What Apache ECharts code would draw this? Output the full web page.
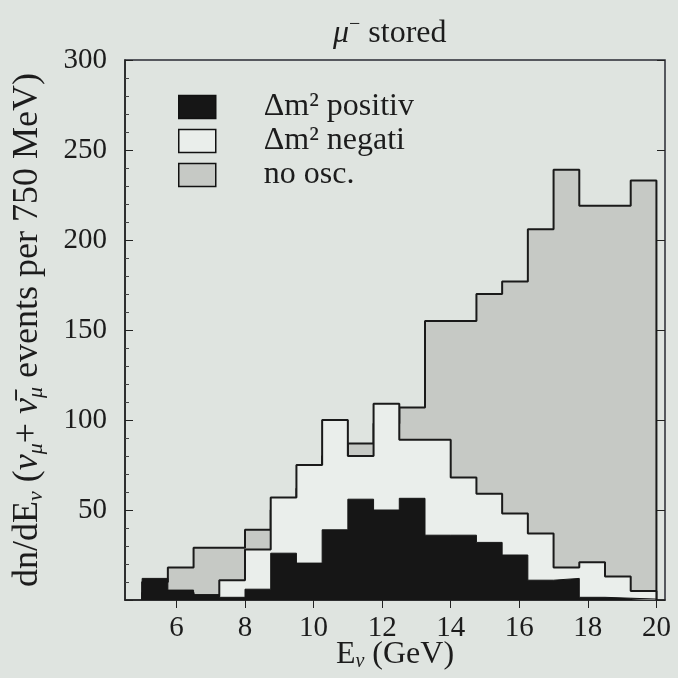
<!DOCTYPE html>
<html>
<head>
<meta charset="utf-8">
<script src="https://cdn.jsdelivr.net/npm/echarts@6/dist/echarts.min.js"></script>
<style>
  html, body { margin: 0; padding: 0; background: #dfe4e0; }
  #chart { width: 678px; height: 678px; }
</style>
</head>
<body>
<div id="chart"></div>
<script>
// Bin edges in GeV (750 MeV bins)
const binEdges = [5, 5.75, 6.5, 7.25, 8, 8.75, 9.5, 10.25, 11, 11.75, 12.5, 13.25, 14, 14.75, 15.5, 16.25, 17, 17.75, 18.5, 19.25, 20];
// events per bin
const noOsc    = [10, 18, 29, 29, 39, 50, 62, 80, 87, 98, 107, 155, 155, 170, 177, 206, 239, 219, 219, 233];
const negative = [4, 4, 2, 11, 28, 57, 75, 100, 80, 109, 89, 89, 68, 59, 48, 37, 18, 21, 13, 5];
const positive = [12, 5.5, 3, 1.5, 6, 26, 20.5, 39, 56, 50, 56.5, 36, 36, 32, 25, 11, 12, 1.5, 1, 0.5];
const xTicks = [6, 8, 10, 12, 14, 16, 18, 20];
const yTicks = [50, 100, 150, 200, 250, 300];
const seriesNames = ['Δm² positiv', 'Δm² negati', 'no osc.'];

function stepPoints(values) {
  const pts = [[binEdges[0], 0]];
  for (let i = 0; i < values.length; i++) pts.push([binEdges[i], values[i]]);
  const last = binEdges[binEdges.length - 1];
  pts.push([last, values[values.length - 1]]);
  pts.push([last, 0]);
  return pts;
}

const serif = 'Liberation Serif';
const ink = '#1c1c1c';
const grayFill = '#c6c9c5';
const whiteFill = '#eaeeeb';
const blackFill = '#161616';

const chart = echarts.init(document.getElementById('chart'));
chart.setOption({
  backgroundColor: '#dfe4e0',
  animation: false,
  title: {
    text: '{mu|μ}{sup|−}{t| stored}',
    left: 328, top: 10,
    textStyle: {
      fontFamily: serif, color: ink, fontWeight: 'normal',
      rich: {
        mu: { fontFamily: serif, fontSize: 32, fontStyle: 'italic', fontWeight: 'normal', color: ink, lineHeight: 38, verticalAlign: 'middle' },
        sup: { fontFamily: serif, fontSize: 20, fontWeight: 'normal', color: ink, lineHeight: 20, verticalAlign: 'top' },
        t: { fontFamily: serif, fontSize: 32, fontWeight: 'normal', color: ink, lineHeight: 38, verticalAlign: 'middle' }
      }
    }
  },
  legend: {
    orient: 'vertical', left: 173, top: 86,
    itemWidth: 37, itemHeight: 23, itemGap: 2,
    selectedMode: false,
    formatter: name => '{p|}{t|' + name + '}',
    textStyle: {
      fontFamily: serif, fontSize: 32, color: ink, lineHeight: 30,
      rich: { p: { width: 43 }, t: { fontFamily: serif, fontSize: 32, color: ink, lineHeight: 30 } }
    },
    data: [
      { name: seriesNames[0], icon: 'rect', itemStyle: { color: blackFill, borderColor: '#111', borderWidth: 1.5 } },
      { name: seriesNames[1], icon: 'rect', itemStyle: { color: whiteFill, borderColor: '#111', borderWidth: 1.5 } },
      { name: seriesNames[2], icon: 'rect', itemStyle: { color: grayFill, borderColor: '#111', borderWidth: 1.5 } }
    ]
  },
  grid: {
    left: 125, right: 13, top: 60, bottom: 78,
    outerBoundsMode: 'none', containLabel: false,
    show: true, borderColor: '#2a2a33', borderWidth: 1.5, backgroundColor: 'transparent'
  },
  xAxis: [{
    type: 'value', min: 4.5, max: 20.25,
    splitLine: { show: false },
    axisLine: { lineStyle: { color: '#222', width: 1.5 } },
    axisTick: { inside: true, length: 8, customValues: xTicks, lineStyle: { color: '#222' } },
    axisLabel: { customValues: xTicks, fontFamily: serif, fontSize: 29, color: ink, margin: 14 },
    name: '{t|E}{sb|ν}{t| (GeV)}',
    nameLocation: 'middle', nameGap: 38, nameMoveOverlap: false,
    nameTextStyle: {
      fontFamily: serif, color: ink,
      rich: {
        t: { fontFamily: serif, fontSize: 32, color: ink, lineHeight: 34, verticalAlign: 'middle' },
        sb: { fontFamily: serif, fontSize: 20, fontStyle: 'italic', color: ink, lineHeight: 20, verticalAlign: 'bottom' }
      }
    }
  }, {
    type: 'value', min: 4.5, max: 20.25, position: 'top',
    splitLine: { show: false },
    axisLine: { show: false },
    axisTick: { inside: true, length: 8, customValues: xTicks, lineStyle: { color: '#222' } },
    axisLabel: { show: false }
  }],
  yAxis: [{
    type: 'value', min: 0, max: 300, interval: 50,
    splitLine: { show: false },
    axisLine: { show: true, lineStyle: { color: '#222', width: 1.5 } },
    axisTick: { show: true, inside: true, length: 8, lineStyle: { color: '#222' } },
    minorTick: { show: true, splitNumber: 5, length: 4, lineStyle: { color: '#444' } },
    axisLabel: {
      fontFamily: serif, fontSize: 29, color: ink, margin: 18,
      formatter: v => (yTicks.indexOf(v) >= 0 ? String(v) : '')
    },
    name: '{t|dn/dE}{sb|ν}{t| (}{it|ν}{sb|μ}{t|+ }{it|ν̄}{sb|μ}{t| events per 750 MeV)}',
    nameLocation: 'middle', nameGap: 78, nameMoveOverlap: false,
    nameTextStyle: {
      fontFamily: serif, color: ink,
      rich: {
        t: { fontFamily: serif, fontSize: 36, color: ink, lineHeight: 38, verticalAlign: 'middle' },
        it: { fontFamily: serif, fontSize: 36, fontStyle: 'italic', color: ink, lineHeight: 38, verticalAlign: 'middle' },
        sb: { fontFamily: serif, fontSize: 22, fontStyle: 'italic', color: ink, lineHeight: 22, verticalAlign: 'bottom' }
      }
    }
  }, {
    type: 'value', min: 0, max: 300, interval: 50, position: 'right',
    splitLine: { show: false },
    axisLine: { show: false },
    axisTick: { show: true, inside: true, length: 8, lineStyle: { color: '#222' } },
    axisLabel: { show: false }
  }],
  series: [
    {
      name: seriesNames[2], type: 'line', step: 'end', showSymbol: false, z: 2,
      data: stepPoints(noOsc),
      lineStyle: { color: '#1a1a1a', width: 2 },
      itemStyle: { color: grayFill },
      areaStyle: { color: grayFill, opacity: 1 }
    },
    {
      name: seriesNames[1], type: 'line', step: 'end', showSymbol: false, z: 3,
      data: stepPoints(negative),
      lineStyle: { color: '#1a1a1a', width: 2 },
      itemStyle: { color: whiteFill },
      areaStyle: { color: whiteFill, opacity: 1 }
    },
    {
      name: seriesNames[0], type: 'line', step: 'end', showSymbol: false, z: 4,
      data: stepPoints(positive),
      lineStyle: { color: blackFill, width: 1 },
      itemStyle: { color: blackFill },
      areaStyle: { color: blackFill, opacity: 1 }
    }
  ]
});
</script>
</body>
</html>
